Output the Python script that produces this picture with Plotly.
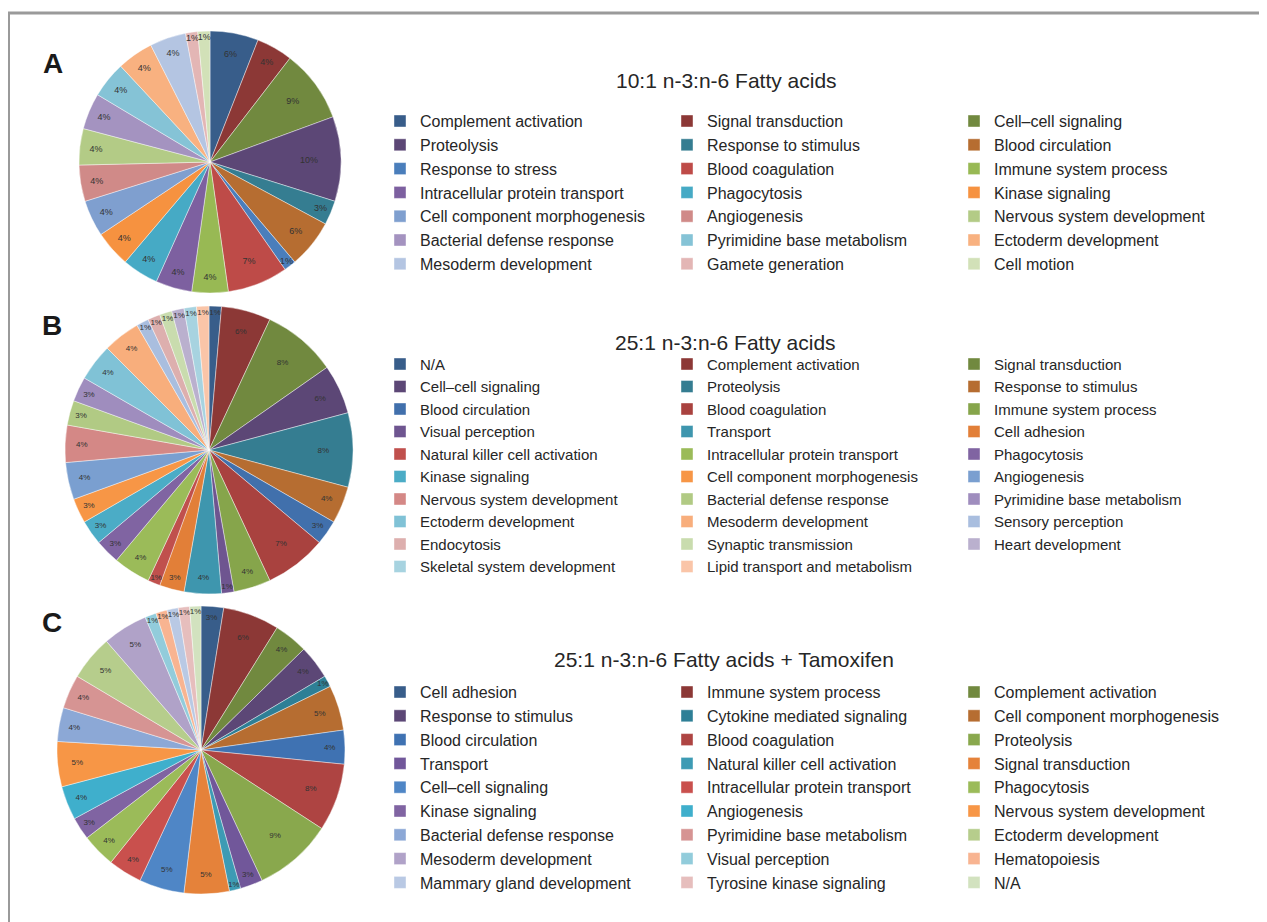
import plotly.graph_objects as go

# ---------------- data ----------------
names_a = ["Complement activation", "Signal transduction", "Cell–cell signaling",
           "Proteolysis", "Response to stimulus", "Blood circulation",
           "Response to stress", "Blood coagulation", "Immune system process",
           "Intracellular protein transport", "Phagocytosis", "Kinase signaling",
           "Cell component morphogenesis", "Angiogenesis", "Nervous system development",
           "Bacterial defense response", "Pyrimidine base metabolism", "Ectoderm development",
           "Mesoderm development", "Gamete generation", "Cell motion"]
counts_a = [4, 3, 6, 7, 2, 4, 1, 5, 3, 3, 3, 3, 3, 3, 3, 3, 3, 3, 3, 1, 1]
colors_a = ["#385D8A", "#8C3836", "#71893F", "#5C4776", "#357D91", "#B66D31",
            "#4A7EBB", "#BE4B48", "#98B954", "#7D60A0", "#46AAC5", "#F69240",
            "#7F9FCF", "#D08A88", "#B3CB86", "#A493C0", "#85C3D6", "#F8B180",
            "#B4C5E2", "#E3B6B5", "#D2E1B8"]

names_b = ["N/A", "Complement activation", "Signal transduction",
           "Cell–cell signaling", "Proteolysis", "Response to stimulus",
           "Blood circulation", "Blood coagulation", "Immune system process",
           "Visual perception", "Transport", "Cell adhesion",
           "Natural killer cell activation", "Intracellular protein transport", "Phagocytosis",
           "Kinase signaling", "Cell component morphogenesis", "Angiogenesis",
           "Nervous system development", "Bacterial defense response", "Pyrimidine base metabolism",
           "Ectoderm development", "Mesoderm development", "Sensory perception",
           "Endocytosis", "Synaptic transmission", "Heart development",
           "Skeletal system development", "Lipid transport and metabolism"]
counts_b = [1, 4, 6, 4, 6, 3, 2, 5, 3, 1, 3, 2, 1, 3, 2, 2, 2, 3, 3, 2, 2, 3, 3, 1, 1, 1, 1, 1, 1]
colors_b = ["#385D8A", "#8C3836", "#71893F", "#5C4776", "#357D91", "#B66D31",
            "#4170AC", "#A9423F", "#86A54B", "#6E5590", "#3E96AE", "#E27F38",
            "#C0504D", "#9BBB59", "#8064A2", "#4BACC6", "#F79646",
            "#7A9FD0", "#D48886", "#B1CA84", "#9F8DBE", "#80C2D6", "#F8AE7C",
            "#A9BEDF", "#DDAFAE", "#C9DCAE", "#BAB0CE", "#A7D3E0", "#FAC5A8"]

names_c = ["Cell adhesion", "Immune system process", "Complement activation",
           "Response to stimulus", "Cytokine mediated signaling", "Cell component morphogenesis",
           "Blood circulation", "Blood coagulation", "Proteolysis",
           "Transport", "Natural killer cell activation", "Signal transduction",
           "Cell–cell signaling", "Intracellular protein transport", "Phagocytosis",
           "Kinase signaling", "Angiogenesis", "Nervous system development",
           "Bacterial defense response", "Pyrimidine base metabolism", "Ectoderm development",
           "Mesoderm development", "Visual perception", "Hematopoiesis",
           "Mammary gland development", "Tyrosine kinase signaling", "N/A"]
counts_c = [2, 5, 3, 3, 1, 4, 3, 6, 7, 2, 1, 4, 4, 3, 3, 2, 3, 4, 3, 3, 4, 4, 1, 1, 1, 1, 1]
colors_c = ["#385D8A", "#8C3836", "#71893F", "#5C4776", "#2E7F96", "#B66D31",
            "#3F72B2", "#AE4442", "#89A84D", "#71579A", "#3D9BB4", "#E5823A",
            "#4F86C6", "#C9504D", "#9BBB59", "#8064A2", "#3FAFCC", "#F79646",
            "#8CA8D6", "#D69493", "#B6CD8C", "#B0A2C8", "#92CCDB", "#F8B491",
            "#B9C9E4", "#E6BEBD", "#D2E2BF"]

panel_letters = ["A", "B", "C"]
panel_titles = ["10:1 n-3:n-6 Fatty acids",
                "25:1 n-3:n-6 Fatty acids",
                "25:1 n-3:n-6 Fatty acids + Tamoxifen"]

# ---------------- layout helpers ----------------
OFF = 8                      # page body margin in the browser
W, H = 1267 - OFF, 922 - OFF
ML, MR, MT, MB = 10, 142, 0, 0
PW, PH = W - ML - MR, H - MT - MB
FONT = "Liberation Sans, Arial, Helvetica, sans-serif"


def fx(sx):
    """screen x (px) -> paper fraction"""
    return (sx - OFF - ML) / PW


def fy(sy):
    """screen y (px) -> paper fraction"""
    return 1 - (sy - OFF - MT) / PH


def dom(cx, cy, d):
    return dict(x=[fx(cx - d / 2), fx(cx + d / 2)], y=[fy(cy + d / 2), fy(cy - d / 2)])


panels = [
    dict(names=names_a, counts=counts_a, colors=colors_a, cx=210, cy=162, d=262,
         tsize=9, legend="legend", group="ga", lfs=16, lrow1=121),
    dict(names=names_b, counts=counts_b, colors=colors_b, cx=209, cy=450, d=288,
         tsize=8, legend="legend2", group="gb", lfs=15, lrow1=364),
    dict(names=names_c, counts=counts_c, colors=colors_c, cx=201, cy=750, d=288,
         tsize=8, legend="legend3", group="gc", lfs=16, lrow1=692),
]

fig = go.Figure()
legends = {}
for p in panels:
    fig.add_trace(go.Pie(
        labels=p["names"], values=p["counts"], sort=False, direction="clockwise",
        rotation=0, domain=dom(p["cx"], p["cy"], p["d"]),
        marker=dict(colors=p["colors"], line=dict(color="rgba(255,255,255,0.7)", width=0.6)),
        texttemplate="%{percent:.0%}", textposition="inside",
        insidetextorientation="horizontal",
        insidetextfont=dict(family=FONT, size=p["tsize"], color="#333333"),
        legend=p["legend"], legendgroup=p["group"], showlegend=True,
        hoverinfo="label+value+percent",
    ))
    h = max(p["lfs"] * 1.3, 16) + 3
    legends[p["legend"]] = dict(
        orientation="h", x=fx(380), xanchor="left",
        y=fy(p["lrow1"] - h / 2 - 5), yanchor="top",
        entrywidthmode="pixels", entrywidth=242,
        font=dict(family=FONT, size=p["lfs"], color="#262626"),
        bgcolor="rgba(0,0,0,0)", traceorder="normal",
    )

annotations = []
for letter, (lx, ly) in zip(panel_letters, [(53, 64), (52, 325), (52, 622)]):
    annotations.append(dict(text=letter, x=fx(lx), y=fy(ly), xref="paper", yref="paper",
                            showarrow=False, xanchor="center", yanchor="middle",
                            font=dict(family=FONT, size=28, color="#1a1a1a", weight="bold")))
for title, (tx, ty) in zip(panel_titles, [(726, 80), (725, 342), (724, 659)]):
    annotations.append(dict(text=title, x=fx(tx), y=fy(ty), xref="paper", yref="paper",
                            showarrow=False, xanchor="center", yanchor="middle",
                            font=dict(family=FONT, size=21, color="#262626")))

shapes = [
    dict(type="line", xref="paper", yref="paper", x0=fx(OFF), x1=fx(1267), y0=fy(13), y1=fy(13),
         line=dict(color="#9a9a9a", width=3)),
    dict(type="line", xref="paper", yref="paper", x0=fx(OFF + 1), x1=fx(OFF + 1), y0=fy(13), y1=fy(922),
         line=dict(color="#9a9a9a", width=2)),
]

fig.update_layout(
    width=W, height=H, margin=dict(l=ML, r=MR, t=MT, b=MB),
    paper_bgcolor="white", plot_bgcolor="white",
    uniformtext=dict(minsize=7.5, mode="show"),
    annotations=annotations, shapes=shapes,
    **legends,
)

fig.write_html("out.html")
